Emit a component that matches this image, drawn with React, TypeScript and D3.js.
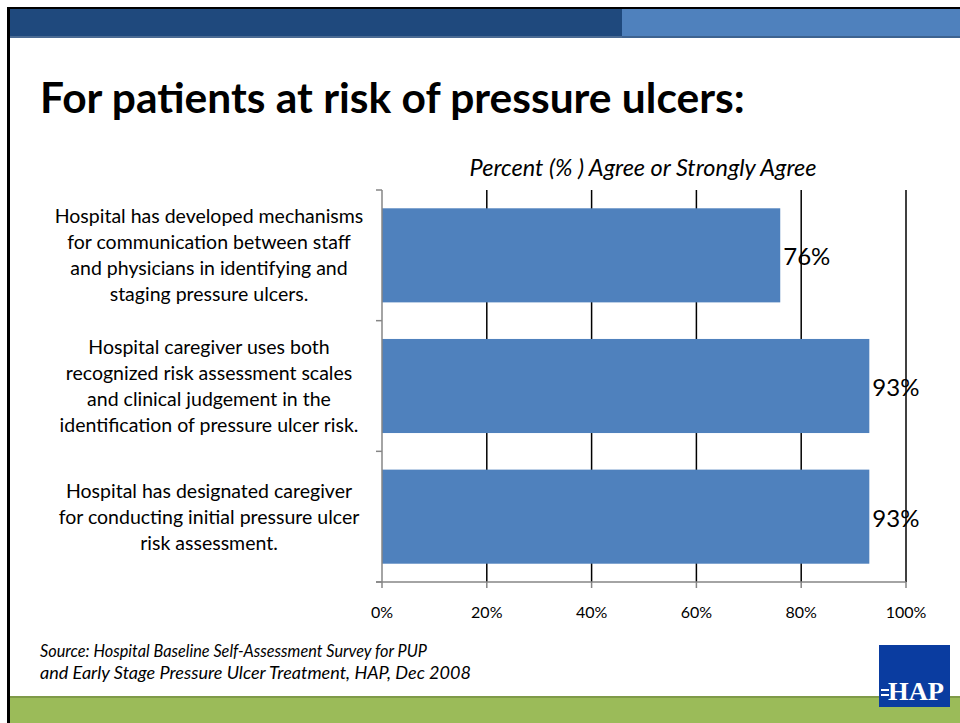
import React from "react";
import * as d3 from "d3";

// chart values
const categories = [
  "Hospital has developed mechanisms|for communication between staff|and physicians in identifying and|staging pressure ulcers.",
  "Hospital caregiver uses both|recognized risk assessment scales|and clinical judgement in the|identification of pressure ulcer risk.",
  "Hospital has designated caregiver|for conducting initial pressure ulcer|risk assessment.",
];
const values = [76, 93, 93];
const xTicks = [0, 20, 40, 60, 80, 100];

const title = "For patients at risk of pressure ulcers:";
const axisTitle = "Percent (% ) Agree or Strongly Agree";
const sourceLines = [
  "Source: Hospital Baseline Self-Assessment Survey for PUP",
  "and Early Stage Pressure Ulcer Treatment, HAP, Dec 2008",
];
const sourceWidths = [387, 431];

const W = 960;
const H = 723;
const FONT = "Lato, 'Open Sans', sans-serif";

function App() {
  const x = d3.scaleLinear().domain([0, 100]).range([382, 906]);
  const y = d3
    .scaleBand()
    .domain(categories)
    .range([190, 582])
    .paddingInner(0.28)
    .paddingOuter(0.14);
  const step = y.step();
  const boundaries = d3.range(categories.length + 1).map((i) => 190 + i * step);

  return (
    <svg
      width={W}
      height={H}
      style={{ position: "absolute", left: 0, top: 0 }}
      fontFamily={FONT}
    >
      <rect x={0} y={0} width={W} height={H} fill="#ffffff" />

      {/* header band */}
      <rect x={8} y={7} width={W - 8} height={3} fill="#000000" />
      <rect x={10} y={9} width={612} height={28} fill="#1f497d" />
      <rect x={622} y={9} width={W - 622} height={28} fill="#4f81bd" />
      <rect x={10} y={36} width={612} height={2} fill="#4b6b93" />
      <rect x={622} y={36} width={W - 622} height={2} fill="#3e6390" />
      <rect x={7} y={7} width={3} height={H - 7} fill="#000000" />

      <text x={40} y={113} fontSize={42.5} fontWeight="bold" fill="#000">
        {title}
      </text>

      <text
        x={643}
        y={176}
        fontSize={23.5}
        fontStyle="italic"
        textAnchor="middle"
        fill="#000"
      >
        {axisTitle}
      </text>

      {/* gridlines */}
      {xTicks.slice(1).map((t) => (
        <line
          key={"g" + t}
          x1={x(t)}
          x2={x(t)}
          y1={190}
          y2={582}
          stroke="#000"
          strokeWidth={1.5}
        />
      ))}

      {/* bars */}
      {categories.map((c, i) => (
        <rect
          key={c}
          x={x(0)}
          y={y(c)}
          width={x(values[i]) - x(0)}
          height={y.bandwidth()}
          fill="#4f81bd"
        />
      ))}

      {/* axes */}
      <line x1={x(0)} x2={x(0)} y1={190} y2={582} stroke="#868686" strokeWidth={1.5} />
      {boundaries.map((b, i) => (
        <line key={"yt" + i} x1={376} x2={x(0)} y1={b} y2={b} stroke="#868686" strokeWidth={1.5} />
      ))}
      <line x1={376} x2={x(100)} y1={582} y2={582} stroke="#868686" strokeWidth={1.5} />
      {xTicks.map((t) => (
        <line key={"xt" + t} x1={x(t)} x2={x(t)} y1={582} y2={588} stroke="#868686" strokeWidth={1.5} />
      ))}
      {xTicks.map((t) => (
        <text key={"xl" + t} x={x(t)} y={618} fontSize={16} textAnchor="middle" fill="#000">
          {t + "%"}
        </text>
      ))}

      {/* value labels */}
      {categories.map((c, i) => (
        <text
          key={"v" + i}
          x={x(values[i]) + 3}
          y={(y(c) ?? 0) + y.bandwidth() / 2 + 10}
          fontSize={24}
          fill="#000"
        >
          {values[i] + "%"}
        </text>
      ))}

      {/* category labels */}
      {categories.map((c, i) => {
        const lines = c.split("|");
        const mid = 190 + (i + 0.5) * step;
        const top = mid - ((lines.length - 1) * 26) / 2;
        return (
          <text key={"c" + i} fontSize={19.5} textAnchor="middle" fill="#000">
            {lines.map((l, j) => (
              <tspan key={j} x={209} y={top + j * 26 + 7}>
                {l}
              </tspan>
            ))}
          </text>
        );
      })}

      {sourceLines.map((s, i) => (
        <text
          key={"s" + i}
          x={40}
          y={657 + i * 22}
          fontSize={17}
          fontStyle="italic"
          textLength={sourceWidths[i]}
          lengthAdjust="spacingAndGlyphs"
          fill="#000"
        >
          {s}
        </text>
      ))}

      {/* footer */}
      <rect x={10} y={696} width={W - 10} height={3} fill="#7f9a48" />
      <rect x={10} y={698} width={W - 10} height={H - 698} fill="#9bbb59" />
      <rect x={879} y={645} width={71} height={62} fill="#0a3ca0" />
      <rect x={881} y={689} width={8} height={2} fill="#ffffff" />
      <rect x={881} y={694} width={8} height={2} fill="#ffffff" />
      <text
        x={888}
        y={700}
        fontSize={26}
        fontWeight="bold"
        fontFamily="'Liberation Serif', serif"
        textLength={56}
        lengthAdjust="spacingAndGlyphs"
        fill="#ffffff"
      >
        HAP
      </text>
    </svg>
  );
}

export default App;
